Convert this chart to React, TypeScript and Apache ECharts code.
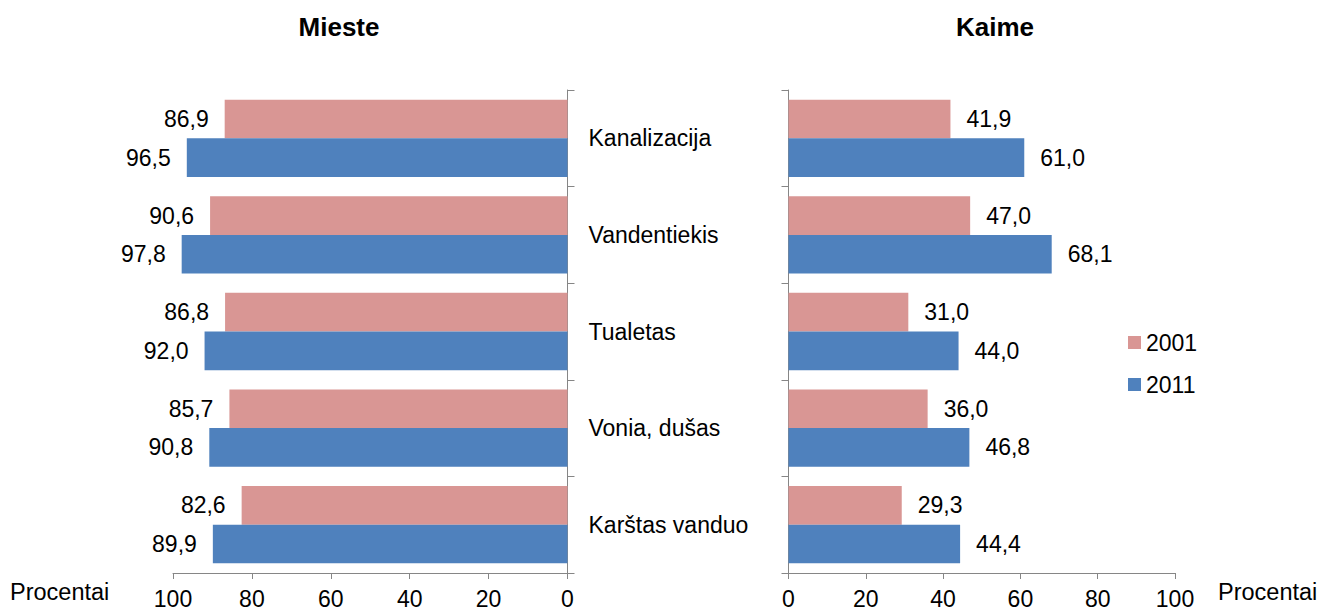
import React, { useEffect, useRef } from "react";
import * as echarts from "echarts";

const categories = ["Kanalizacija", "Vandentiekis", "Tualetas", "Vonia, dušas", "Karštas vanduo"];
const years = ["2001", "2011"];
const miesteData2001 = [86.9, 90.6, 86.8, 85.7, 82.6];
const miesteData2011 = [96.5, 97.8, 92.0, 90.8, 89.9];
const kaimeData2001 = [41.9, 47.0, 31.0, 36.0, 29.3];
const kaimeData2011 = [61.0, 68.1, 44.0, 46.8, 44.4];
const panelTitles = ["Mieste", "Kaime"];
const axisName = "Procentai";

const FONT = "'Liberation Sans', Arial, sans-serif";
const PINK = "#D99694";
const BLUE = "#4F81BD";
const AXIS = "#868686";

const fmt = (p: any) => Number(p.value).toFixed(1).replace(".", ",");

export default function App() {
  const ref = useRef<HTMLDivElement>(null);
  useEffect(() => {
    if (!ref.current) return;
    const chart = echarts.init(ref.current, undefined, { renderer: "svg" });
    const axisLine = { show: true, lineStyle: { color: AXIS, width: 1 } };
    const xAxisCommon = {
      type: "value" as const,
      min: 0,
      max: 100,
      interval: 20,
      splitLine: { show: false },
      axisLine,
      axisTick: { show: true, length: 6, lineStyle: { color: AXIS } },
      axisLabel: { fontSize: 23, color: "#000", fontFamily: FONT, margin: 14 },
    };
    const labelCommon = {
      show: true,
      fontSize: 23,
      color: "#000",
      fontFamily: FONT,
      distance: 16,
      formatter: fmt,
    };
    const option: any = {
      animation: false,
      grid: [
        { left: 173, width: 394.5, top: 90, height: 483 },
        { left: 788.5, width: 386.5, top: 90, height: 483 },
      ],
      xAxis: [
        { ...xAxisCommon, gridIndex: 0, inverse: true },
        { ...xAxisCommon, gridIndex: 1 },
      ],
      yAxis: [
        {
          type: "category",
          gridIndex: 0,
          data: categories,
          inverse: true,
          position: "right",
          axisLine,
          axisTick: { show: true, length: 7, lineStyle: { color: AXIS } },
          axisLabel: { fontSize: 23, color: "#000", fontFamily: FONT, align: "left", margin: 21 },
        },
        {
          type: "category",
          gridIndex: 1,
          data: categories,
          inverse: true,
          position: "left",
          axisLine,
          axisTick: { show: true, length: 7, lineStyle: { color: AXIS } },
          axisLabel: { show: false },
        },
      ],
      legend: {
        orient: "vertical",
        left: 1128,
        top: 331,
        padding: 0,
        itemGap: 19,
        itemWidth: 13,
        itemHeight: 13,
        icon: "rect",
        data: years,
        textStyle: { fontSize: 23, color: "#000", fontFamily: FONT },
      },
      series: [
        {
          name: years[0], type: "bar", xAxisIndex: 0, yAxisIndex: 0, data: miesteData2001,
          itemStyle: { color: PINK }, barGap: "0%", barCategoryGap: "20%",
          label: { ...labelCommon, position: "left" },
        },
        {
          name: years[1], type: "bar", xAxisIndex: 0, yAxisIndex: 0, data: miesteData2011,
          itemStyle: { color: BLUE }, barGap: "0%", barCategoryGap: "20%",
          label: { ...labelCommon, position: "left" },
        },
        {
          name: years[0], type: "bar", xAxisIndex: 1, yAxisIndex: 1, data: kaimeData2001,
          itemStyle: { color: PINK }, barGap: "0%", barCategoryGap: "20%",
          label: { ...labelCommon, position: "right" },
        },
        {
          name: years[1], type: "bar", xAxisIndex: 1, yAxisIndex: 1, data: kaimeData2011,
          itemStyle: { color: BLUE }, barGap: "0%", barCategoryGap: "20%",
          label: { ...labelCommon, position: "right" },
        },
      ],
      graphic: [
        {
          type: "text", x: 339, y: 27,
          style: {
            text: panelTitles[0], fill: "#000", font: `bold 26px ${FONT}`,
            textAlign: "center", textVerticalAlign: "middle",
          },
        },
        {
          type: "text", x: 995, y: 27,
          style: {
            text: panelTitles[1], fill: "#000", font: `bold 26px ${FONT}`,
            textAlign: "center", textVerticalAlign: "middle",
          },
        },
        {
          type: "text", left: 10, top: 580,
          style: { text: axisName, fill: "#000", font: `23.5px ${FONT}` },
        },
        {
          type: "text", left: 1218, top: 580,
          style: { text: axisName, fill: "#000", font: `23.5px ${FONT}` },
        },
      ],
    };
    chart.setOption(option);
    return () => chart.dispose();
  }, []);
  return (
    <div
      ref={ref}
      style={{ position: "fixed", left: 0, top: 0, width: 1322, height: 612, background: "#fff" }}
    />
  );
}
